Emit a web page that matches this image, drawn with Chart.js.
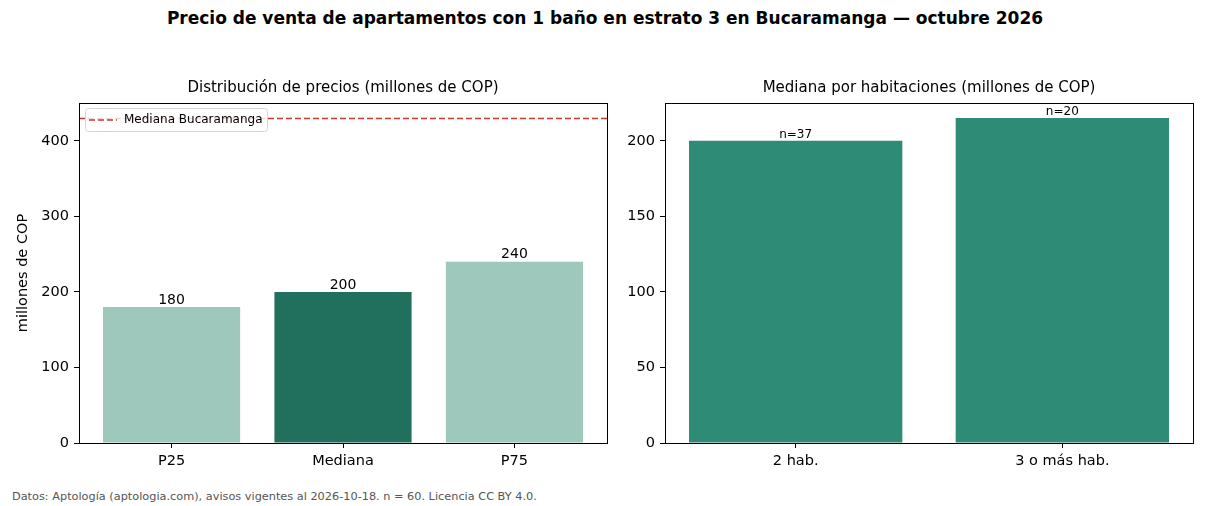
<!DOCTYPE html>
<html>
<head>
<meta charset="utf-8">
<script src="https://cdn.jsdelivr.net/npm/chart.js@4.4.1/dist/chart.umd.min.js"></script>
<style>
  body { margin: 0; background: #fff; width: 1210px; height: 506px; position: relative; overflow: hidden; font-family: "DejaVu Sans", sans-serif; }
  #title { position: absolute; top: 7px; left: 0; width: 1210px; text-align: center; font-weight: bold; font-size: 17px; line-height: 22px; color: #000; }
  #footer { position: absolute; left: 12px; top: 490px; font-size: 11.3px; line-height: 14px; color: #555; }
  canvas { position: absolute; }
</style>
</head>
<body>
<div id="title">Precio de venta de apartamentos con 1 baño en estrato 3 en Bucaramanga — octubre 2026</div>
<canvas id="left" style="left:0;top:40px;"></canvas>
<canvas id="right" style="left:600px;top:40px;"></canvas>
<div id="footer">Datos: Aptología (aptologia.com), avisos vigentes al 2026-10-18. n = 60. Licencia CC BY 4.0.</div>
<script>
// data
const percentilLabels = ['P25', 'Mediana', 'P75'];
const percentilValues = [180, 200, 240];
const medianaCiudad = 430;
const habLabels = ['2 hab.', '3 o más hab.'];
const habMediana = [200, 215];
const habN = [37, 20];

const FONT = 'DejaVu Sans';
const RED = '#c0392b';
const TICK = 14.5;
Chart.defaults.font.family = FONT;
Chart.defaults.color = '#000';

// full black frame around the plot area
const framePlugin = {
  id: 'frame',
  afterDraw(chart) {
    const a = chart.chartArea, ctx = chart.ctx;
    ctx.save();
    ctx.strokeStyle = '#000';
    ctx.lineWidth = 1;
    ctx.strokeRect(Math.round(a.left) + 0.5, Math.round(a.top) + 0.5, Math.round(a.right - a.left), Math.round(a.bottom - a.top));
    ctx.restore();
  }
};

// text above each bar
const barLabels = {
  id: 'barLabels',
  afterDatasetsDraw(chart, args, opts) {
    const ctx = chart.ctx;
    const meta = chart.getDatasetMeta(0);
    ctx.save();
    ctx.font = opts.size + 'px ' + FONT;
    ctx.fillStyle = '#000';
    ctx.textAlign = 'center';
    ctx.textBaseline = 'bottom';
    meta.data.forEach((bar, i) => {
      ctx.fillText(opts.texts[i], bar.x, bar.y);
    });
    ctx.restore();
  }
};

// city median reference line + legend box
const refLine = {
  id: 'refLine',
  afterDatasetsDraw(chart) {
    const ctx = chart.ctx, a = chart.chartArea;
    const y = Math.round(chart.scales.y.getPixelForValue(medianaCiudad)) + 0.5;
    ctx.save();
    ctx.strokeStyle = RED;
    ctx.lineWidth = 1.5;
    ctx.setLineDash([6, 3]);
    ctx.beginPath();
    ctx.moveTo(a.left, y);
    ctx.lineTo(a.right, y);
    ctx.stroke();

    // legend
    const bx = a.left + 6, by = a.top + 5, bw = 182, bh = 23;
    ctx.setLineDash([]);
    ctx.fillStyle = 'rgba(255,255,255,0.8)';
    ctx.strokeStyle = '#d6d6d6';
    ctx.lineWidth = 1;
    ctx.beginPath();
    ctx.roundRect(bx + 0.5, by + 0.5, bw, bh, 3);
    ctx.fill();
    ctx.stroke();
    const ly = by + bh / 2 + 0.5;
    ctx.strokeStyle = RED;
    ctx.lineWidth = 1.5;
    ctx.setLineDash([6, 3]);
    ctx.beginPath();
    ctx.moveTo(bx + 4, ly);
    ctx.lineTo(bx + 32, ly);
    ctx.stroke();
    ctx.setLineDash([]);
    ctx.fillStyle = '#000';
    ctx.font = '12px ' + FONT;
    ctx.textBaseline = 'middle';
    ctx.fillText('Mediana Bucaramanga', bx + 39, ly);
    ctx.restore();
  }
};

function fixedWidth(w) { return scale => { scale.width = w; }; }
function fixedHeight(h) { return scale => { scale.height = h; }; }
// drop the tick at the upper limit of the y axis
function dropTop(scale) { scale.ticks = scale.ticks.filter(t => t.value < scale.max); }

function xAxis(labels, min, max) {
  return {
    type: 'linear', min: min, max: max, offset: false,
    grid: { drawOnChartArea: false, offset: false, tickLength: 5, color: '#000' },
    border: { color: '#000' },
    ticks: { stepSize: 1, includeBounds: false, font: { size: TICK }, padding: 5, color: '#000',
             maxRotation: 0, autoSkip: false,
             callback: v => labels[v] !== undefined ? labels[v] : '' },
    afterFit: fixedHeight(37)
  };
}

function yAxis(max, step, extra) {
  return Object.assign({
    min: 0, max: max,
    grid: { drawOnChartArea: false, tickLength: 5, color: '#000' },
    border: { color: '#000' },
    ticks: { stepSize: step, font: { size: TICK }, padding: 5, color: '#000' },
    afterBuildTicks: dropTop
  }, extra);
}

function subtitle(text) {
  return { display: true, fullSize: false, text: text, font: { size: 15, weight: 'normal' }, color: '#000', padding: { top: 0, bottom: 6 } };
}

const left = document.getElementById('left');
left.width = 620; left.height = 440;
new Chart(left, {
  type: 'bar',
  data: {
    datasets: [{
      data: percentilValues.map((v, i) => ({ x: i, y: v })),
      backgroundColor: ['#9dc8bb', '#216f5d', '#9dc8bb'],
      borderWidth: 0,
      barPercentage: 0.8,
      categoryPercentage: 1
    }]
  },
  options: {
    responsive: false,
    animation: false,
    layout: { padding: { top: 39, right: 13, left: 0, bottom: 0 } },
    plugins: {
      legend: { display: false },
      tooltip: { enabled: false },
      title: subtitle('Distribución de precios (millones de COP)'),
      barLabels: { size: 14, texts: percentilValues.map(String) }
    },
    scales: {
      x: xAxis(percentilLabels, -0.54, 2.54),
      y: yAxis(450, 100, {
        title: { display: true, text: 'millones de COP', font: { size: TICK }, color: '#000', padding: { top: 15, bottom: 0 } },
        afterFit: fixedWidth(79)
      })
    }
  },
  plugins: [framePlugin, barLabels, refLine]
});

const right = document.getElementById('right');
right.width = 610; right.height = 440;
new Chart(right, {
  type: 'bar',
  data: {
    datasets: [{
      data: habMediana.map((v, i) => ({ x: i, y: v })),
      backgroundColor: '#2e8b76',
      borderWidth: 0,
      barPercentage: 0.8,
      categoryPercentage: 1
    }]
  },
  options: {
    responsive: false,
    animation: false,
    layout: { padding: { top: 39, right: 17, left: 0, bottom: 0 } },
    plugins: {
      legend: { display: false },
      tooltip: { enabled: false },
      title: subtitle('Mediana por habitaciones (millones de COP)'),
      barLabels: { size: 12, texts: habN.map(n => 'n=' + n) }
    },
    scales: {
      x: xAxis(habLabels, -0.49, 1.49),
      y: yAxis(225, 50, { afterFit: fixedWidth(65) })
    }
  },
  plugins: [framePlugin, barLabels]
});
</script>
</body>
</html>
